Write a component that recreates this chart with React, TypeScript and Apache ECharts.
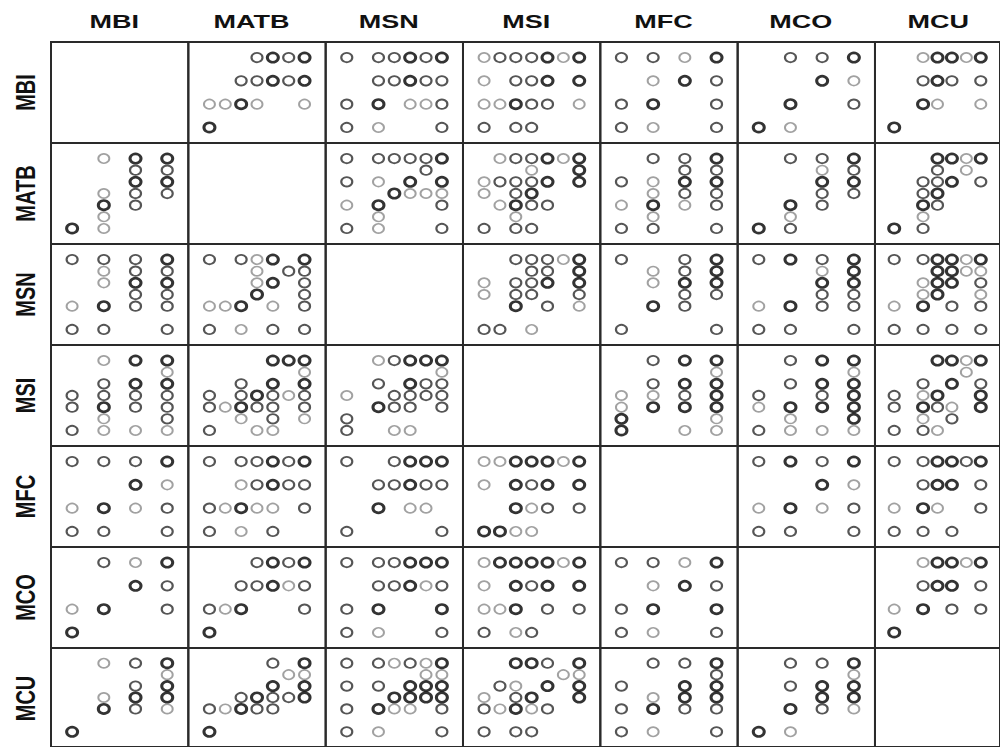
import React, { useEffect, useRef } from "react";
import * as echarts from "echarts";

// Variables of the scatterplot matrix and the number of score levels (0..n-1) each one takes
const VARS = ["MBI", "MATB", "MSN", "MSI", "MFC", "MCO", "MCU"];
const LEVELS = [4, 7, 7, 7, 4, 4, 7];

// Distinct points per variable pair: [level of column variable, level of row variable, overlap weight]
// weight 1 = single observation, 2 = a few, 3 = many stacked observations
const MBI_MATB = [
  [3, 3, 2], [4, 3, 3], [5, 3, 2], [6, 3, 3],
  [2, 2, 2], [3, 2, 2], [4, 2, 3], [5, 2, 2], [6, 2, 3],
  [0, 1, 1], [1, 1, 1], [2, 1, 3], [3, 1, 1], [6, 1, 1],
  [0, 0, 3],
];
const MBI_MSN = [
  [0, 3, 2], [2, 3, 2], [3, 3, 2], [4, 3, 3], [5, 3, 2], [6, 3, 3],
  [2, 2, 2], [3, 2, 2], [4, 2, 3], [5, 2, 2], [6, 2, 2],
  [0, 1, 2], [2, 1, 3], [4, 1, 1], [5, 1, 1], [6, 1, 2],
  [0, 0, 2], [2, 0, 1], [6, 0, 2],
];
const MBI_MSI = [
  [0, 3, 1], [1, 3, 2], [2, 3, 2], [3, 3, 2], [4, 3, 3], [5, 3, 1], [6, 3, 3],
  [0, 2, 1], [2, 2, 2], [3, 2, 2], [4, 2, 3], [6, 2, 3],
  [0, 1, 1], [1, 1, 1], [2, 1, 3], [3, 1, 2], [4, 1, 2], [6, 1, 1],
  [0, 0, 2], [2, 0, 2], [3, 0, 2],
];
const MBI_MFC = [
  [0, 3, 2], [1, 3, 2], [2, 3, 1], [3, 3, 3],
  [1, 2, 1], [2, 2, 3], [3, 2, 2],
  [0, 1, 2], [1, 1, 3], [3, 1, 2],
  [0, 0, 2], [1, 0, 1], [3, 0, 2],
];
const MBI_MCO = [
  [1, 3, 2], [2, 3, 2], [3, 3, 3],
  [2, 2, 3], [3, 2, 1],
  [1, 1, 3], [3, 1, 2],
  [0, 0, 3], [1, 0, 1],
];
const MBI_MCU = [
  [2, 3, 1], [3, 3, 3], [4, 3, 3], [5, 3, 1], [6, 3, 3],
  [2, 2, 2], [3, 2, 3], [4, 2, 2], [6, 2, 2],
  [2, 1, 3], [3, 1, 1], [6, 1, 1],
  [0, 0, 3],
];
const MATB_MSN = [
  [0, 6, 2], [2, 6, 2], [3, 6, 2], [4, 6, 2], [5, 6, 2], [6, 6, 3],
  [5, 5, 2],
  [0, 4, 2], [2, 4, 1], [4, 4, 3], [6, 4, 3],
  [3, 3, 3], [4, 3, 1], [5, 3, 1], [6, 3, 1],
  [0, 2, 1], [2, 2, 3], [6, 2, 2],
  [2, 1, 1],
  [0, 0, 2], [2, 0, 1], [6, 0, 2],
];
const MATB_MSI = [
  [1, 6, 1], [2, 6, 2], [3, 6, 2], [4, 6, 3], [5, 6, 1], [6, 6, 3],
  [3, 5, 1], [6, 5, 3],
  [0, 4, 1], [1, 4, 2], [2, 4, 2], [3, 4, 2], [4, 4, 3], [6, 4, 3],
  [0, 3, 1], [2, 3, 2], [3, 3, 3],
  [1, 2, 1], [2, 2, 3], [3, 2, 2], [4, 2, 2],
  [2, 1, 1],
  [0, 0, 2], [2, 0, 2], [3, 0, 2],
];
const MATB_MFC = [
  [1, 6, 2], [2, 6, 2], [3, 6, 3],
  [2, 5, 2], [3, 5, 2],
  [0, 4, 2], [1, 4, 1], [2, 4, 3], [3, 4, 3],
  [1, 3, 1], [2, 3, 2], [3, 3, 2],
  [0, 2, 1], [1, 2, 3], [2, 2, 1], [3, 2, 2],
  [1, 1, 1],
  [0, 0, 2], [1, 0, 2], [3, 0, 2],
];
const MATB_MCO = [
  [1, 6, 2], [2, 6, 2], [3, 6, 3],
  [2, 5, 1], [3, 5, 2],
  [2, 4, 3], [3, 4, 3],
  [2, 3, 2], [3, 3, 2],
  [1, 2, 3], [2, 2, 2],
  [1, 1, 1],
  [0, 0, 3], [1, 0, 2],
];
const MATB_MCU = [
  [3, 6, 3], [4, 6, 3], [5, 6, 1], [6, 6, 3],
  [3, 5, 2], [5, 5, 1],
  [2, 4, 2], [3, 4, 2], [4, 4, 3], [6, 4, 2],
  [2, 3, 2], [3, 3, 3],
  [2, 2, 3], [3, 2, 2],
  [2, 1, 1],
  [0, 0, 3], [2, 0, 2],
];
const MSN_MSI = [
  [2, 6, 2], [3, 6, 2], [4, 6, 2], [5, 6, 1], [6, 6, 3],
  [3, 5, 2], [4, 5, 2], [6, 5, 3],
  [0, 4, 1], [2, 4, 2], [3, 4, 2], [4, 4, 3], [6, 4, 3],
  [0, 3, 1], [2, 3, 2], [3, 3, 2], [6, 3, 2],
  [2, 2, 3], [4, 2, 2], [6, 2, 1],
  [0, 0, 2], [1, 0, 2], [3, 0, 1],
];
const MSN_MFC = [
  [0, 6, 2], [2, 6, 2], [3, 6, 3],
  [1, 5, 1], [2, 5, 2], [3, 5, 3],
  [1, 4, 1], [2, 4, 3], [3, 4, 3],
  [2, 3, 2], [3, 3, 2],
  [1, 2, 3], [2, 2, 2],
  [0, 0, 2], [3, 0, 2],
];
const MSN_MCO = [
  [0, 6, 2], [1, 6, 3], [2, 6, 2], [3, 6, 3],
  [2, 5, 1], [3, 5, 3],
  [2, 4, 3], [3, 4, 3],
  [2, 3, 2], [3, 3, 2],
  [0, 2, 1], [1, 2, 3], [2, 2, 2], [3, 2, 2],
  [0, 0, 2], [1, 0, 2], [3, 0, 2],
];
const MSN_MCU = [
  [0, 6, 2], [2, 6, 2], [3, 6, 3], [4, 6, 3], [5, 6, 1], [6, 6, 3],
  [3, 5, 3], [4, 5, 3], [5, 5, 1], [6, 5, 1],
  [2, 4, 1], [3, 4, 3], [4, 4, 3], [6, 4, 2],
  [2, 3, 1], [3, 3, 3], [6, 3, 1],
  [0, 2, 1], [2, 2, 3], [4, 2, 2], [6, 2, 2],
  [0, 0, 2], [2, 0, 2], [4, 0, 2], [6, 0, 2],
];
const MSI_MFC = [
  [1, 6, 2], [2, 6, 3], [3, 6, 3],
  [3, 5, 1],
  [1, 4, 2], [2, 4, 3], [3, 4, 3],
  [0, 3, 1], [1, 3, 1], [2, 3, 2], [3, 3, 3],
  [0, 2, 1], [1, 2, 3], [2, 2, 3], [3, 2, 3],
  [0, 1, 3], [3, 1, 1],
  [0, 0, 3], [2, 0, 1], [3, 0, 1],
];
const MSI_MCO = [
  [1, 6, 2], [2, 6, 3], [3, 6, 3],
  [3, 5, 1],
  [1, 4, 2], [2, 4, 3], [3, 4, 3],
  [0, 3, 2], [2, 3, 2], [3, 3, 3],
  [0, 2, 1], [1, 2, 3], [2, 2, 3], [3, 2, 3],
  [1, 1, 1], [3, 1, 3],
  [0, 0, 2], [1, 0, 1], [2, 0, 1], [3, 0, 1],
];
const MSI_MCU = [
  [3, 6, 3], [4, 6, 3], [5, 6, 1], [6, 6, 3],
  [5, 5, 1],
  [2, 4, 2], [4, 4, 3], [6, 4, 2],
  [0, 3, 2], [2, 3, 1], [3, 3, 3], [6, 3, 3],
  [0, 2, 2], [2, 2, 3], [3, 2, 2], [4, 2, 1], [6, 2, 3],
  [2, 1, 1], [4, 1, 2],
  [0, 0, 2], [2, 0, 2], [3, 0, 1],
];
const MFC_MCO = [
  [0, 3, 2], [1, 3, 3], [2, 3, 2], [3, 3, 3],
  [2, 2, 3], [3, 2, 1],
  [0, 1, 1], [1, 1, 3], [2, 1, 1], [3, 1, 2],
  [0, 0, 2], [1, 0, 2], [3, 0, 2],
];
const MFC_MCU = [
  [0, 3, 2], [2, 3, 2], [3, 3, 3], [4, 3, 3], [5, 3, 2], [6, 3, 3],
  [2, 2, 2], [3, 2, 3], [4, 2, 3], [6, 2, 2],
  [0, 1, 1], [2, 1, 3], [3, 1, 1], [6, 1, 2],
  [0, 0, 2], [2, 0, 2], [4, 0, 2],
];
const MCO_MCU = [
  [2, 3, 1], [3, 3, 3], [4, 3, 3], [5, 3, 1], [6, 3, 3],
  [2, 2, 2], [3, 2, 3], [4, 2, 3], [6, 2, 2],
  [0, 1, 1], [2, 1, 3], [4, 1, 2], [6, 1, 2],
  [0, 0, 3],
];

// [row variable, column variable, points] for the upper triangle; the lower triangle is its transpose
const PAIRS: [number, number, number[][]][] = [
  [0, 1, MBI_MATB], [0, 2, MBI_MSN], [0, 3, MBI_MSI], [0, 4, MBI_MFC], [0, 5, MBI_MCO], [0, 6, MBI_MCU],
  [1, 2, MATB_MSN], [1, 3, MATB_MSI], [1, 4, MATB_MFC], [1, 5, MATB_MCO], [1, 6, MATB_MCU],
  [2, 3, MSN_MSI], [2, 4, MSN_MFC], [2, 5, MSN_MCO], [2, 6, MSN_MCU],
  [3, 4, MSI_MFC], [3, 5, MSI_MCO], [3, 6, MSI_MCU],
  [4, 5, MFC_MCO], [4, 6, MFC_MCU],
  [5, 6, MCO_MCU],
];

// Panel layout
const LEFT = 51;
const TOP = 42;
const CELL_W = 137.33;
const CELL_H = 101;
const PAD = 0.222; // axis extension, as a fraction of the level range, on each side

const STROKES: Record<number, { color: string; width: number }> = {
  1: { color: "#8a8a8a", width: 1.8 },
  2: { color: "#2a2a2a", width: 2.0 },
  3: { color: "#000000", width: 2.8 },
};
const SYMBOL_SIZE = [11, 9.3];

function axisFor(n: number, gridIndex: number) {
  return {
    type: "value" as const,
    gridIndex,
    min: -(n - 1) * PAD,
    max: (n - 1) * (1 + PAD),
    show: false,
    splitLine: { show: false },
  };
}

function buildOption() {
  const k = VARS.length;
  const grids: any[] = [];
  const xAxes: any[] = [];
  const yAxes: any[] = [];
  const idx = (r: number, c: number) => r * k + c;

  for (let r = 0; r < k; r++) {
    for (let c = 0; c < k; c++) {
      grids.push({
        left: LEFT + c * CELL_W,
        top: TOP + r * CELL_H,
        width: CELL_W,
        height: CELL_H,
        show: true,
        borderColor: "#2a2a2a",
        borderWidth: 2,
        backgroundColor: "transparent",
      });
      xAxes.push(axisFor(LEVELS[c], idx(r, c)));
      yAxes.push(axisFor(LEVELS[r], idx(r, c)));
    }
  }

  const toData = (pts: number[][], swap: boolean) =>
    [...pts]
      .sort((a, b) => a[2] - b[2])
      .map((p) => {
        const s = STROKES[p[2]];
        return {
          value: swap ? [p[1], p[0]] : [p[0], p[1]],
          itemStyle: {
            color: "rgba(255,255,255,0)",
            borderColor: s.color,
            borderWidth: s.width,
          },
        };
      });

  const series: any[] = [];
  PAIRS.forEach(([r, c, pts]) => {
    // upper panel: x = column variable, y = row variable
    series.push({
      type: "scatter",
      xAxisIndex: idx(r, c),
      yAxisIndex: idx(r, c),
      symbol: "circle",
      symbolSize: SYMBOL_SIZE,
      silent: true,
      data: toData(pts, false),
    });
    // mirrored lower panel
    series.push({
      type: "scatter",
      xAxisIndex: idx(c, r),
      yAxisIndex: idx(c, r),
      symbol: "circle",
      symbolSize: SYMBOL_SIZE,
      silent: true,
      data: toData(pts, true),
    });
  });

  const graphics: any[] = [];
  VARS.forEach((name, i) => {
    graphics.push({
      type: "text",
      x: LEFT + (i + 0.5) * CELL_W - 5.5,
      y: 22,
      scaleX: 1.5,
      style: {
        text: name,
        fontFamily: '"Liberation Sans", Arial, sans-serif',
        fontWeight: "bold",
        fontSize: 18,
        fill: "#111",
        textAlign: "center",
        textVerticalAlign: "middle",
        align: "center",
        verticalAlign: "middle",
      },
    });
    graphics.push({
      type: "text",
      x: 25,
      y: TOP + (i + 0.5) * CELL_H,
      rotation: Math.PI / 2,
      scaleY: 1.4,
      style: {
        text: name,
        fontFamily: '"Liberation Sans", Arial, sans-serif',
        fontWeight: "bold",
        fontSize: 20,
        fill: "#111",
        textAlign: "center",
        textVerticalAlign: "middle",
        align: "center",
        verticalAlign: "middle",
      },
    });
  });

  return {
    animation: false,
    backgroundColor: "#ffffff",
    grid: grids,
    xAxis: xAxes,
    yAxis: yAxes,
    series,
    graphic: graphics,
  };
}

export default function App() {
  const ref = useRef<HTMLDivElement>(null);

  useEffect(() => {
    if (!ref.current) return;
    const chart = echarts.init(ref.current, undefined, { renderer: "svg" });
    chart.setOption(buildOption());
    return () => chart.dispose();
  }, []);

  return (
    <div
      ref={ref}
      style={{
        position: "absolute",
        left: 0,
        top: 0,
        width: 1000,
        height: 747,
        overflow: "hidden",
        background: "#fff",
      }}
    />
  );
}
